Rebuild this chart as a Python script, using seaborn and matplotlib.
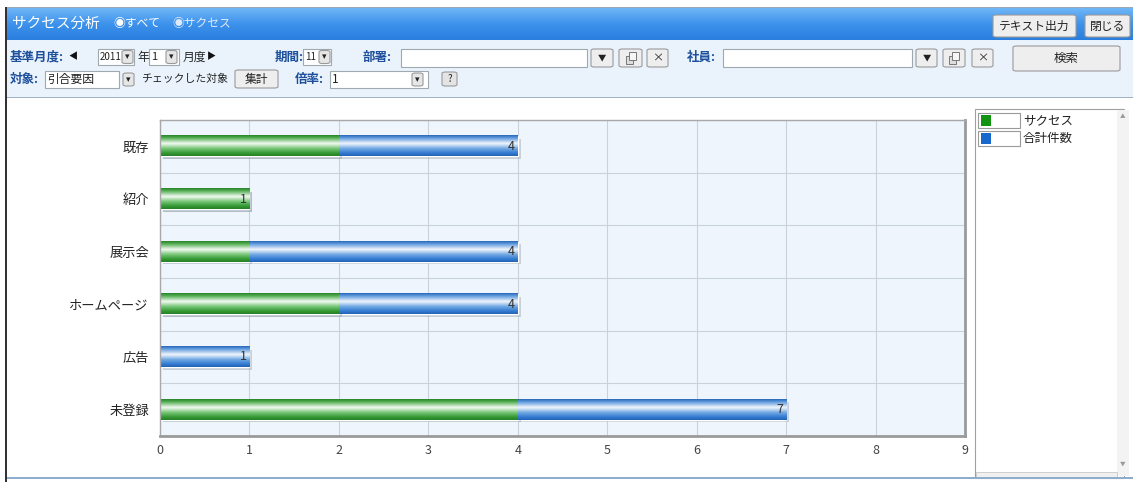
import numpy as np
import pandas as pd
import seaborn as sns
import matplotlib.pyplot as plt
import matplotlib.patheffects as pe
from matplotlib.patches import Rectangle, FancyBboxPatch
from matplotlib.colors import to_rgb

# データ
categories = ['既存', '紹介', '展示会', 'ホームページ', '広告', '未登録']
success = [2, 1, 1, 2, 0, 4]
total = [4, 1, 4, 4, 1, 7]
series_names = ['サクセス', '合計件数']
x_ticks = list(range(0, 10))

W, H = 1133, 482
sns.set_style('white')
plt.rcParams['font.family'] = ['Noto Sans CJK JP', 'DejaVu Sans']

fig = plt.figure(figsize=(W / 100, H / 100), dpi=100)
fig.patch.set_facecolor('white')

LABEL_BLUE = '#1d4f9c'


def box(x, y, w, h, **kw):
    # ピクセル座標 (上から)
    r = Rectangle((x / W, 1 - (y + h) / H), w / W, h / H, transform=fig.transFigure, **kw)
    fig.add_artist(r)
    return r


def button(x, y, w, h, text='', fs=9, face='#eeeeee'):
    r = FancyBboxPatch((x / W, 1 - (y + h) / H), w / W, h / H, boxstyle='round,pad=0,rounding_size=0.003',
                       transform=fig.transFigure, facecolor=face, edgecolor='#9a9a9a', lw=0.8)
    fig.add_artist(r)
    if text:
        txt(x + w / 2, y + h / 2, text, fontsize=fs, ha='center', color='#222222')


def copy_button(x, y, w, h):
    # コピーアイコン (重なった四角)
    button(x, y, w, h)
    box(x + w / 2 - 5, y + h / 2 - 2, 7, 8, facecolor='#dddddd', edgecolor='#777777', lw=0.7)
    box(x + w / 2 - 2, y + h / 2 - 6, 7, 8, facecolor='#f6f6f6', edgecolor='#777777', lw=0.7)


def txt(x, y, s, **kw):
    kw.setdefault('va', 'center')
    fig.text(x / W, 1 - y / H, s, **kw)


def inp(x, y, w, h, text='', fs=8.5):
    box(x, y, w, h, facecolor='white', edgecolor='#a0a8b0', lw=0.8)
    if text:
        txt(x + 2, y + h / 2, text, fontsize=fs, color='#222222')


def dd(x, y, w=11, h=13):
    button(x, y, w, h, '▾', fs=6.5, face='#e6e6e6')


def grad_img(ax, extent, stops, colors, n=64):
    t = np.linspace(0, 1, n)
    rgb = np.array([to_rgb(c) for c in colors])
    g = np.stack([np.interp(t, stops, rgb[:, k]) for k in range(3)], axis=1)
    return ax.imshow(g[:, None, :], extent=extent, aspect='auto', interpolation='bilinear')


# ---- ウィンドウ枠とタイトルバー ----
box(6, 7, 1127, 1, facecolor='#9aa8b8', edgecolor='none')
tax = fig.add_axes([7 / W, 1 - 40 / H, 1126 / W, 32 / H])
tax.axis('off')
grad_img(tax, (0, 1, 1, 0), [0, 0.5, 1], ['#70b6f6', '#3d92ec', '#2a7fde'])
tax.set_xlim(0, 1)
tax.set_ylim(1, 0)
txt(12, 24, 'サクセス分析', fontsize=10.5, color='white')
txt(113, 24, '◉すべて', fontsize=8.5, color='white')
txt(172, 24, '◉サクセス', fontsize=8.5, color='#dfeaf8')
button(993, 15, 83, 22, 'テキスト出力', fs=8.5)
button(1085, 15, 45, 22, '閉じる', fs=8.5)

# ---- ツールバー ----
box(7, 40, 1126, 57, facecolor='#eaf3fc', edgecolor='none')
box(7, 97, 1126, 1.2, facecolor='#9fb2c6', edgecolor='none')
box(5, 7, 2, 475, facecolor='#333333', edgecolor='none')

txt(10, 57, '基準月度:', fontsize=9, color=LABEL_BLUE, fontweight='bold')
txt(68, 57, '◀', fontsize=6.5, color='#111111')
inp(98, 49, 36, 16, '2011', fs=7)
dd(122, 50.5)
txt(137, 57, '年', fontsize=8.5, color='#222222')
inp(149, 49, 30, 16, '1', fs=8)
dd(166, 50.5)
txt(183, 57, '月度', fontsize=8.5, color='#222222')
txt(207, 57, '▶', fontsize=6.5, color='#111111')
txt(275, 57, '期間:', fontsize=9, color=LABEL_BLUE, fontweight='bold')
inp(303, 49, 28, 16, '11', fs=7)
dd(319, 50.5)
txt(363, 57, '部署:', fontsize=9, color=LABEL_BLUE, fontweight='bold')
inp(401, 49, 186, 18)
button(591, 49, 22, 18, '▼', fs=6)
copy_button(619, 49, 23, 18)
button(647, 49, 21, 18, '×', fs=8)
txt(687, 57, '社員:', fontsize=9, color=LABEL_BLUE, fontweight='bold')
inp(723, 49, 189, 18)
button(916, 49, 21, 18, '▼', fs=6)
copy_button(943, 49, 22, 18)
button(972, 49, 21, 18, '×', fs=8)
button(1013, 46, 107, 25, '検索', fs=9)

txt(10, 79, '対象:', fontsize=9, color=LABEL_BLUE, fontweight='bold')
inp(45, 71, 74, 17, '引合要因')
dd(123, 73)
txt(141, 79, 'チェックした対象', fontsize=7.8, color='#222222')
button(235, 70, 43, 18, '集計', fs=8.5)
txt(295, 79, '倍率:', fontsize=9, color=LABEL_BLUE, fontweight='bold')
inp(330, 71, 98, 17, '1')
dd(412, 73)
button(442, 72, 15, 14, '?', fs=7, face='#e4e4e4')

# ---- チャート ----
ax = fig.add_axes([160 / W, 1 - 436 / H, 805 / W, 316 / H])
ax.set_facecolor('#eef5fd')
df = pd.DataFrame({'区分': categories, 'サクセス': success, '合計件数': total})

sns.barplot(data=df, y='区分', x='合計件数', color='#2f74cc', width=0.38, orient='h',
            errorbar=None, saturation=1, ax=ax)
n_blue = len(ax.patches)
sns.barplot(data=df, y='区分', x='サクセス', color='#2f962f', width=0.38, orient='h',
            errorbar=None, saturation=1, ax=ax)

xlim = (0, 9)
ylim = ax.get_ylim()
green_cols = ['#2a842a', '#4fac4f', '#f2faf2', '#74c474', '#30962f', '#2a7f2a']
blue_cols = ['#2a67b8', '#5b97dc', '#f0f6fc', '#6fa6e2', '#2f77d0', '#2563b2']
stops = [0, 0.12, 0.4, 0.65, 0.88, 1]
for i, p in enumerate(ax.patches):
    w = p.get_width()
    if w <= 0:
        continue
    x0, y0, h = p.get_x(), p.get_y(), p.get_height()
    p.set_path_effects([pe.withSimplePatchShadow(offset=(2, -2), shadow_rgbFace='#9aa4b0', alpha=0.45)])
    cols = blue_cols if i < n_blue else green_cols
    im = grad_img(ax, (x0, x0 + w, y0 + h, y0), stops, cols)
    im.set_zorder(p.get_zorder() + 0.1)

ax.set_xlim(*xlim)
ax.set_ylim(*ylim)

for i, t in enumerate(total):
    ax.text(t - 0.03, i, str(t), ha='right', va='center', fontsize=9, color='#333333', zorder=5)

ax.set_xticks(x_ticks)
ax.set_xticklabels([str(v) for v in x_ticks], fontsize=9, color='#444444')
ax.set_yticks(range(len(categories)))
ax.set_yticklabels(categories, fontsize=9.5, color='#222222')
ax.set_yticks([k + 0.5 for k in range(-1, len(categories))], minor=True)
ax.tick_params(axis='y', which='major', length=0, pad=8)
ax.tick_params(axis='y', which='minor', length=5, color='#999999', width=0.8)
ax.tick_params(axis='x', length=4, color='#999999', width=0.8, pad=2)
ax.grid(axis='x', color='#c9d1dc', lw=0.8)
ax.grid(axis='y', which='minor', color='#c9d1dc', lw=0.8)
ax.set_axisbelow(True)
ax.set_xlabel('')
ax.set_ylabel('')
for side in ['top', 'left']:
    ax.spines[side].set_color('#a8a8a8')
    ax.spines[side].set_linewidth(1)
for side in ['right', 'bottom']:
    ax.spines[side].set_color('#9a9a9a')
    ax.spines[side].set_linewidth(2)

# ---- 凡例 ----
box(975, 109, 149, 369, facecolor='white', edgecolor='#a0a0a0', lw=0.8)
box(1117, 110, 12, 366, facecolor='#f3f3f3', edgecolor='none')
txt(1123, 117, '▲', fontsize=4, ha='center', color='#999999')
txt(1123, 464, '▼', fontsize=4, ha='center', color='#999999')
box(976, 472, 141, 5, facecolor='#f0f0f0', edgecolor='#c8c8c8', lw=0.6)
swatch = ['#129412', '#1767cc']
for i, name in enumerate(series_names):
    yy = 113 + 18 * i
    box(978, yy, 42, 15, facecolor='white', edgecolor='#9a9a9a', lw=0.8)
    box(981, yy + 2.5, 10, 10, facecolor=swatch[i], edgecolor='none')
    txt(1023, yy + 7.5, name, fontsize=9, color='#222222')

box(7, 477, 1126, 1.5, facecolor='#8eaccb', edgecolor='none')

plt.savefig('out.png', dpi=100)
